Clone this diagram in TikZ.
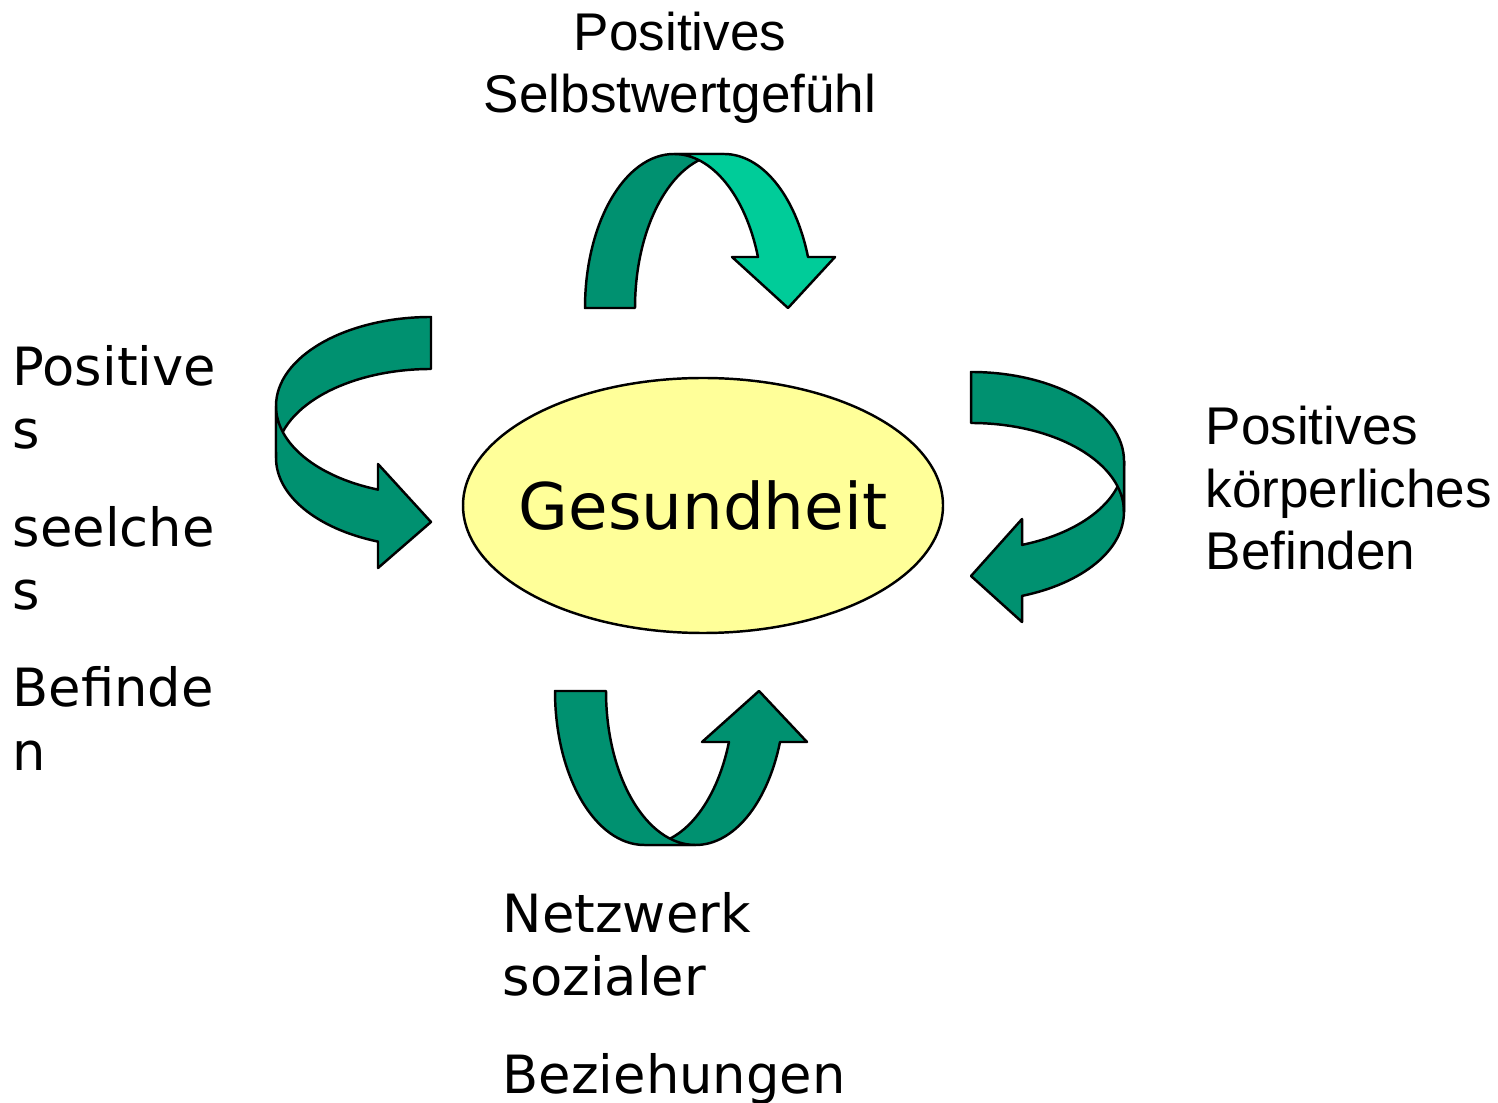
\documentclass[tikz,border=0pt]{standalone}
\usepackage{fontspec}
\setmainfont{DejaVu Sans}
\newfontfamily\arialfont{Liberation Sans}
\usetikzlibrary{shapes.geometric}
\definecolor{bandDark}{HTML}{009170}
\definecolor{bandLight}{HTML}{00CC99}
\definecolor{healthFill}{HTML}{FFFF99}
\tikzset{
  band/.style  ={draw=black, line width=0.7pt, line join=round},
  dark/.style  ={band, fill=bandDark},
  light/.style ={band, fill=bandLight},
  health/.style={ellipse, draw, line width=0.7pt, fill=healthFill, inner xsep=-2mm, inner ysep=0pt,
                 minimum width=48mm, minimum height=25.5mm,
                 font=\fontsize{18.3pt}{22pt}\selectfont},
  lbl/.style   ={inner sep=0pt, align=left, font=\fontsize{15pt}{18pt}\selectfont},
  lblA/.style  ={lbl, font=\arialfont\fontsize{15.1pt}{17.9pt}\selectfont},
}

\begin{document}
\begin{tikzpicture}[x=0.1mm, y=-0.1mm]
  \useasboundingbox (0,0) rectangle (1498,1103);

  % centre
  \node[health] (ges) at (703,505.5) {Gesundheit};

  % top arrow (back band, then front band)
  \draw[dark]  (585,308) arc[start angle=180, end angle=90, x radius=8.9mm, y radius=15.4mm]
               -- (724,154) arc[start angle=90, end angle=180, x radius=8.9mm, y radius=15.4mm] -- cycle;
  \draw[light] (674,154) arc[start angle=90, end angle=19.34, x radius=8.9mm, y radius=15.4mm]
               -- (732,257) -- (788,308) -- (835,257) -- (808,257)
               arc[start angle=19.34, end angle=90, x radius=8.9mm, y radius=15.4mm] -- cycle;

  % left arrow
  \draw[dark]  (431,317) arc[start angle=90, end angle=180, x radius=15.5mm, y radius=8.9mm]
               -- (276,458) arc[start angle=180, end angle=90, x radius=15.5mm, y radius=8.9mm] -- cycle;
  \draw[dark]  (276,406) arc[start angle=180, end angle=250, x radius=15.5mm, y radius=8.9mm]
               -- (378,464) -- (431,522) -- (378,568) -- (378,541.6)
               arc[start angle=250, end angle=180, x radius=15.5mm, y radius=8.9mm] -- cycle;

  % right arrow
  \draw[dark]  (1124,461) arc[start angle=0, end angle=-70.5, x radius=15.3mm, y radius=8.9mm]
               -- (1022,519) -- (971,576) -- (1022,622) -- (1022,595.9)
               arc[start angle=-70.5, end angle=0, x radius=15.3mm, y radius=8.9mm] -- cycle;
  \draw[dark]  (971,372) arc[start angle=90, end angle=0, x radius=15.3mm, y radius=8.9mm]
               -- (1124,512) arc[start angle=0, end angle=90, x radius=15.3mm, y radius=8.9mm] -- cycle;

  % bottom arrow
  \draw[dark]  (644.5,845) arc[start angle=270, end angle=340.66, x radius=8.95mm, y radius=15.4mm]
               -- (702,742) -- (759,691) -- (807,742) -- (780,742)
               arc[start angle=340.66, end angle=270, x radius=8.95mm, y radius=15.4mm] -- cycle;
  \draw[dark]  (555,691) arc[start angle=180, end angle=270, x radius=8.95mm, y radius=15.4mm]
               -- (695.5,845) arc[start angle=270, end angle=180, x radius=8.95mm, y radius=15.4mm] -- cycle;

  % labels (anchored at the baseline of their last line)
  \node[lblA, align=center, anchor=base] (selbst) at (680,113) {Positives\\Selbstwertgefühl};
  \node[lbl, anchor=base west] (seele) at (12,770)
       {Positive\\s\\[3.4mm]seelche\\s\\[3.4mm]Befinde\\n};
  \node[lblA, anchor=base west] (koerper) at (1205,570) {Positives\\körperliches\\Befinden};
  \node[lbl, anchor=base west] (netz) at (502,1093) {Netzwerk\\sozialer\\[3.4mm]Beziehungen};
\end{tikzpicture}
\end{document}
